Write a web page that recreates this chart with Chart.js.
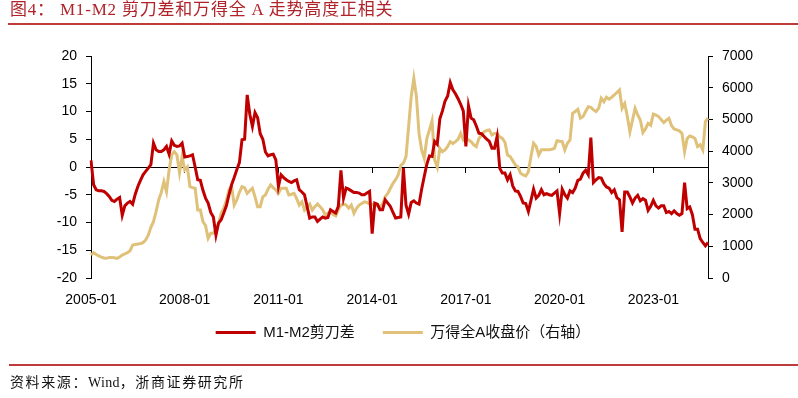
<!DOCTYPE html>
<html>
<head>
<meta charset="utf-8">
<script src="https://cdn.jsdelivr.net/npm/chart.js@4.4.1/dist/chart.umd.min.js"></script>
<style>
html,body{margin:0;padding:0;background:#fff;}
#wrap{position:relative;width:798px;height:398px;overflow:hidden;background:#fff;}
#title{position:absolute;left:10px;top:0px;font-size:17px;font-family:"Liberation Serif","Noto Sans CJK SC",serif;color:#B0232A;letter-spacing:0.8px;line-height:20px;white-space:nowrap;}
#tline{position:absolute;left:8px;right:0;top:23px;height:2px;background:#BF3B3B;}
#sline{position:absolute;left:9px;right:0;top:364px;height:2px;background:#BF3B3B;}
#source{position:absolute;left:10px;top:374px;font-size:14px;font-family:"Liberation Serif","Noto Sans CJK SC",serif;color:#111;letter-spacing:1.6px;line-height:18px;white-space:nowrap;}
#source span{letter-spacing:0.3px;}
#c{position:absolute;left:0;top:0;}
</style>
</head>
<body>
<div id="wrap">
<canvas id="c" width="798" height="398"></canvas>
<div id="title">图4：&nbsp;M1-M2 剪刀差和万得全 A 走势高度正相关</div>
<div id="tline"></div>
<div id="sline"></div>
<div id="source">资料来源：<span>Wind</span>，浙商证券研究所</div>
</div>
<script>
// Monthly categories 2005-01 .. 2024-10
const categories = [];
for (let y = 2005; y <= 2024; y++) {
  for (let m = 1; m <= 12; m++) {
    if (y === 2024 && m > 10) break;
    categories.push(y + '-' + (m < 10 ? '0' + m : '' + m));
  }
}
const tickLabels = ['2005-01','2008-01','2011-01','2014-01','2017-01','2020-01','2023-01'];

// M1-M2 剪刀差 (%)
const m1m2Spread = [
  1.2,-3.2,-4.1,-4.3,-4.3,-4.4,-4.8,-5.3,-6.0,-6.2,-5.8,-5.5,
  -8.7,-7.0,-6.5,-6.2,-6.7,-4.9,-3.5,-2.4,-1.4,-0.8,-0.2,0.4,
  4.3,3.1,2.8,2.8,3.1,3.7,2.3,4.7,3.9,3.7,3.8,4.3,
  1.8,1.9,2.0,2.2,0.0,-2.3,-2.4,-4.2,-5.6,-6.5,-8.2,-9.0,
  -12.3,-10.1,-9.5,-8.3,-7.0,-5.0,-3.2,-1.9,-0.5,0.8,4.9,5.0,
  13.0,9.5,7.3,9.8,8.9,6.0,5.0,2.7,2.0,2.2,2.3,1.3,
  -3.5,-1.4,-1.9,-2.3,-2.6,-2.8,-2.5,-2.3,-4.1,-4.5,-5.0,-7.1,
  -9.2,-9.0,-9.0,-9.8,-9.4,-9.0,-9.2,-9.1,-7.7,-8.0,-8.3,-7.1,
  -0.6,-5.6,-3.8,-4.0,-4.3,-4.6,-4.6,-4.7,-5.0,-5.0,-4.7,-4.4,
  -12.0,-6.5,-6.7,-7.7,-7.7,-5.9,-6.5,-7.1,-8.2,-9.2,-9.1,-9.0,
  -0.2,-6.9,-8.5,-6.4,-6.1,-6.5,-6.7,-4.0,-1.7,0.5,2.0,1.9,
  4.6,4.1,8.7,10.1,11.9,12.8,15.2,13.9,13.2,12.3,11.3,10.1,
  3.7,11.0,8.8,8.5,7.4,6.1,6.0,5.5,5.0,4.6,3.4,3.4,
  5.5,-0.2,-1.1,-1.1,-2.3,-1.4,-3.4,-4.3,-4.4,-5.3,-6.5,-6.6,
  -8.0,-6.0,-4.0,-5.6,-5.1,-4.1,-5.0,-4.8,-5.0,-5.1,-4.7,-4.3,
  -8.4,-4.0,-5.0,-5.6,-4.3,-4.6,-3.8,-2.4,-2.2,-1.1,-0.6,-1.4,
  5.3,-2.8,-2.3,-1.9,-2.0,-3.0,-3.6,-3.8,-4.6,-4.1,-5.5,-5.9,
  -11.7,-4.5,-4.5,-5.4,-6.5,-5.6,-5.1,-6.1,-5.7,-6.0,-7.8,-7.1,
  -6.0,-7.0,-7.4,-7.0,-7.0,-8.2,-8.0,-8.4,-7.9,-8.4,-8.7,-8.4,
  -2.8,-7.5,-7.2,-8.6,-11.2,-11.2,-12.9,-13.6,-14.2,-13.6
];

// 万得全A收盘价 (right axis)
const windAllA = [
  725,800,740,694,660,630,620,650,650,640,620,660,
  725,760,800,860,1040,1055,1070,1090,1115,1200,1350,1600,
  1776,2092,2460,2700,3040,2722,3407,3880,3985,3880,3323,3827,
  3407,3500,2880,2850,2830,2145,2145,1776,1650,1250,1410,1410,
  1550,1725,2040,2200,2450,2776,2900,2300,2460,2700,2880,2850,
  2670,2750,2830,2560,2250,2250,2560,2620,2800,2934,2850,2776,
  2670,2830,2830,2830,2618,2640,2670,2500,2300,2400,2145,2250,
  2334,2145,2250,2334,2250,2150,1987,2050,2090,2000,1960,2150,
  2300,2334,2300,2200,2300,2040,2200,2300,2350,2400,2380,2334,
  2320,2300,2280,2250,2334,2565,2670,2830,2985,3100,3250,3550,
  3620,3830,4770,5720,6300,5720,4560,4040,3776,4400,4670,4960,
  3720,3490,4090,3985,4040,4145,4300,4240,4300,4370,4560,4353,
  4430,4353,4300,4200,4145,4400,4500,4615,4650,4670,4510,4560,
  4560,4450,4400,4280,3880,3830,3700,3565,3510,3300,3250,3217,
  3350,3830,4250,4145,3880,4040,4040,4040,4040,4060,4090,4330,
  4310,4300,4040,4250,4353,5195,5250,5320,5037,5090,5250,5400,
  5380,5300,5250,5350,5670,5560,5700,5640,5700,5770,5850,5930,
  5350,5500,5100,4615,4980,5350,5140,4980,4585,4700,4880,4820,
  5173,5140,5090,5000,4900,4980,5037,4800,4700,4670,4640,4560,
  3985,4400,4480,4450,4400,4145,4200,4040,4930,5037
];

const leftTicks = {min: -20, max: 20, step: 5};
const rightTicks = {min: 0, max: 7000, step: 1000};

const FONT = '"Liberation Sans", "Noto Sans CJK SC", Arial, sans-serif';

new Chart(document.getElementById('c'), {
  type: 'line',
  data: {
    labels: categories,
    datasets: [
      {
        label: 'M1-M2剪刀差',
        data: m1m2Spread,
        borderColor: '#C00000',
        backgroundColor: '#C00000',
        borderWidth: 3,
        pointRadius: 0,
        tension: 0,
        xAxisID: 'x',
        yAxisID: 'y'
      },
      {
        label: '万得全A收盘价（右轴）',
        data: windAllA,
        borderColor: '#DFC17A',
        backgroundColor: '#DFC17A',
        borderWidth: 3,
        pointRadius: 0,
        tension: 0,
        xAxisID: 'x',
        yAxisID: 'y1'
      }
    ]
  },
  options: {
    responsive: false,
    animation: false,
    devicePixelRatio: 1,
    layout: {padding: {top: 56, left: 8, right: 0, bottom: 48}},
    plugins: {
      legend: {
        position: 'bottom',
        labels: {
          usePointStyle: true,
          pointStyle: 'line',
          pointStyleWidth: 40,
          padding: 28,
          color: '#111',
          font: {family: FONT, size: 15}
        }
      },
      tooltip: {enabled: false}
    },
    scales: {
      x: {
        type: 'category',
        position: 'bottom',
        grid: {display: false},
        border: {display: false},
        ticks: {
          autoSkip: false,
          maxRotation: 0,
          minRotation: 0,
          padding: 6,
          color: '#000',
          font: {family: FONT, size: 14},
          callback: (v, i) => (tickLabels.includes(categories[i]) ? categories[i] : '')
        },
        afterFit: s => { s.height = 19; s._computeLabelArea = () => undefined; }
      },
      x2: {
        type: 'category',
        axis: 'x',
        position: {y: 0},
        grid: {
          display: true,
          drawOnChartArea: false,
          drawTicks: true,
          tickLength: 5,
          lineWidth: 1,
          tickColor: c => (tickLabels.includes(categories[c.index]) ? '#000' : 'rgba(0,0,0,0)')
        },
        border: {display: true, color: '#000', width: 1},
        ticks: {display: false, autoSkip: false}
      },
      y: {
        position: 'left',
        min: leftTicks.min,
        max: leftTicks.max,
        ticks: {stepSize: leftTicks.step, padding: 9, color: '#000', font: {family: FONT, size: 14}, callback: v => String(v)},
        grid: {drawOnChartArea: false, drawTicks: true, tickLength: 5, color: '#000'},
        border: {display: true, color: '#000', width: 1},
        afterFit: s => { s.width = 83; }
      },
      y1: {
        position: 'right',
        min: rightTicks.min,
        max: rightTicks.max,
        ticks: {stepSize: rightTicks.step, padding: 9, color: '#000', font: {family: FONT, size: 14}, callback: v => String(v)},
        grid: {drawOnChartArea: false, drawTicks: true, tickLength: 5, color: '#000'},
        border: {display: true, color: '#000', width: 1},
        afterFit: s => { s.width = 90; }
      }
    }
  }
});
</script>
</body>
</html>
